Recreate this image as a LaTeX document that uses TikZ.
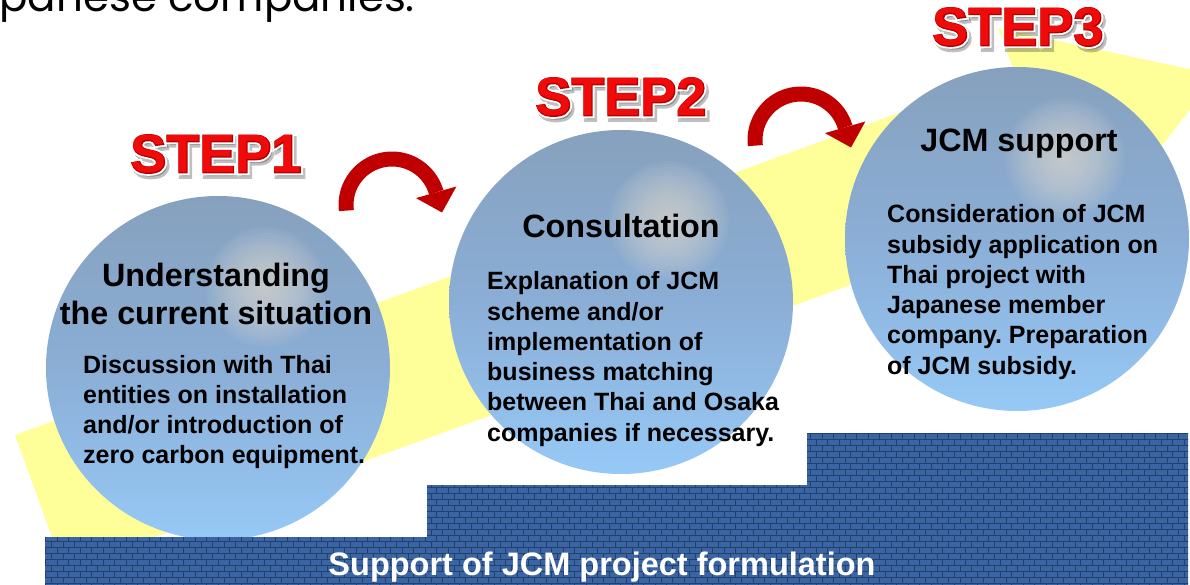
\documentclass[tikz,border=0pt]{standalone}
\usepackage{fontspec}
\setmainfont{Liberation Sans}
\newfontfamily\topfont{Poppins}
\newfontfamily\stepplain{Liberation Sans Bold}
\newfontfamily\stepwide{Liberation Sans Bold}[FakeBold=10]
\newfontfamily\stepmid{Liberation Sans Bold}[FakeBold=3]
\frenchspacing
\definecolor{bandyellow}{HTML}{FFFF99}
\definecolor{circtop}{HTML}{86A1BD}
\definecolor{circmid}{HTML}{8BAED6}
\definecolor{circbot}{HTML}{96C9F6}
\definecolor{glowcol}{HTML}{E2DED9}
\definecolor{arrowred}{HTML}{C00000}
\definecolor{brickfill}{HTML}{3A64A2}
\definecolor{mortar}{HTML}{21406E}
\definecolor{stepred}{HTML}{F00A0A}
\definecolor{stepdark}{HTML}{B00000}
\tikzset{
  stepcircle/.style={circle, minimum size=344bp, inner sep=0pt,
    top color=circtop, bottom color=circbot, middle color=circmid,
    path picture={\foreach \rr in {60,57,...,3}{\fill[glowcol, opacity=0.06]
      ([xshift=48bp,yshift=81bp]path picture bounding box.center) circle (\rr);}}},
  titletext/.style={font=\fontsize{32.3bp}{38bp}\selectfont\bfseries, inner sep=0pt, anchor=base},
  bodytext/.style={font=\fontsize{25bp}{30.2bp}\selectfont\bfseries, inner sep=0pt, anchor=base west},
  steptext/.style={inner sep=0pt, anchor=center},
  walltext/.style={font=\fontsize{32.5bp}{36bp}\selectfont\bfseries, text=white, inner sep=0pt, anchor=base},
  mortarline/.style={draw=mortar, line width=0.9bp},
  turnarrow/.style={draw=arrowred, line width=15bp},
  turnhead/.style={fill=arrowred}
}
\newcommand\steplabel[3]{%
  \node[steptext, text=black, opacity=0.25, font=\stepwide\fontsize{54bp}{60bp}\selectfont] (#1s) at ([xshift=2.5bp,yshift=-3.5bp]#2) {#3};
  \node[steptext, text=white, font=\stepwide\fontsize{54bp}{60bp}\selectfont] (#1w) at (#2) {#3};
  \node[steptext, text=stepdark, font=\stepmid\fontsize{54bp}{60bp}\selectfont] (#1d) at (#2) {#3};
  \node[steptext, text=stepred, font=\stepplain\fontsize{54bp}{60bp}\selectfont] (#1) at (#2) {#3};
}
\newcommand\redturn[2]{%
  \draw[turnarrow] ([shift={(173:46)}]#1,#2) arc[start angle=173, end angle=344, radius=46];
  \fill[turnhead] ({#1+50.0},{#2+7.5}) -- ({#1+64.4},{#2-18.5}) -- ({#1+24.0},{#2-6.9}) -- cycle;
}
\begin{document}
\begin{tikzpicture}[x=1bp,y=-1bp]
\useasboundingbox (0,0) rectangle (1190,585);
\clip (0,0) rectangle (1190,585);
\fill[white] (0,0) rectangle (1190,585);

% top partial text
\node[font=\topfont\fontsize{42bp}{48bp}\selectfont, anchor=base east, inner sep=0pt] (toptext) at (415,12) {Japanese companies.};

% yellow big arrow
\fill[bandyellow] (15,435) -- (1014,71) -- (998,28) -- (1217,75) -- (1079,252) -- (1063,208) -- (64,570) -- cycle;

% circles
\node[stepcircle] (c1) at (218,368) {};
\node[stepcircle] (c2) at (621,302) {};
\node[stepcircle] (c3) at (1017,239) {};

% red turning arrows
\redturn{392}{205}
\redturn{801}{140}

% step labels
\steplabel{s1}{216,154}{STEP1}
\steplabel{s2}{621,97}{STEP2}
\steplabel{s3}{1018,27}{STEP3}

% brick wall
\begin{scope}
  \clip (45,585) -- (45,537) -- (427,537) -- (427,485) -- (807,485) -- (807,433) -- (1188,433) -- (1188,585) -- cycle;
  \fill[brickfill] (40,430) rectangle (1190,585);
  \draw[mortarline] foreach \r in {0,...,25} { (40,{433+6*\r}) -- (1190,{433+6*\r}) };
  \draw[mortarline] foreach \r in {0,...,25} { foreach \k in {0,...,101} { ({40+\k*11.5+mod(\r,2)*5.75},{433+6*\r}) -- ++(0,6) } };
\end{scope}
\node[walltext] (wall) at (602,575) {Support of JCM project formulation};

% circle texts
\node[titletext] (t1) at (216,287) {\begin{tabular}[t]{@{}c@{}}Understanding\\the current situation\end{tabular}};
\node[bodytext] (b1) at (83,373) {\begin{tabular}[t]{@{}l@{}}Discussion with Thai\\entities on installation\\and/or introduction of\\zero carbon equipment.\end{tabular}};

\node[titletext] (t2) at (621,238) {Consultation};
\node[bodytext] (b2) at (487,290) {\begin{tabular}[t]{@{}l@{}}Explanation of JCM\\scheme and/or\\implementation of\\business matching\\between Thai and Osaka\\companies if necessary.\end{tabular}};

\node[titletext] (t3) at (1019,152) {JCM support};
\node[bodytext] (b3) at (887,223) {\begin{tabular}[t]{@{}l@{}}Consideration of JCM\\subsidy application on\\Thai project with\\Japanese member\\company. Preparation\\of JCM subsidy.\end{tabular}};
\end{tikzpicture}
\end{document}
